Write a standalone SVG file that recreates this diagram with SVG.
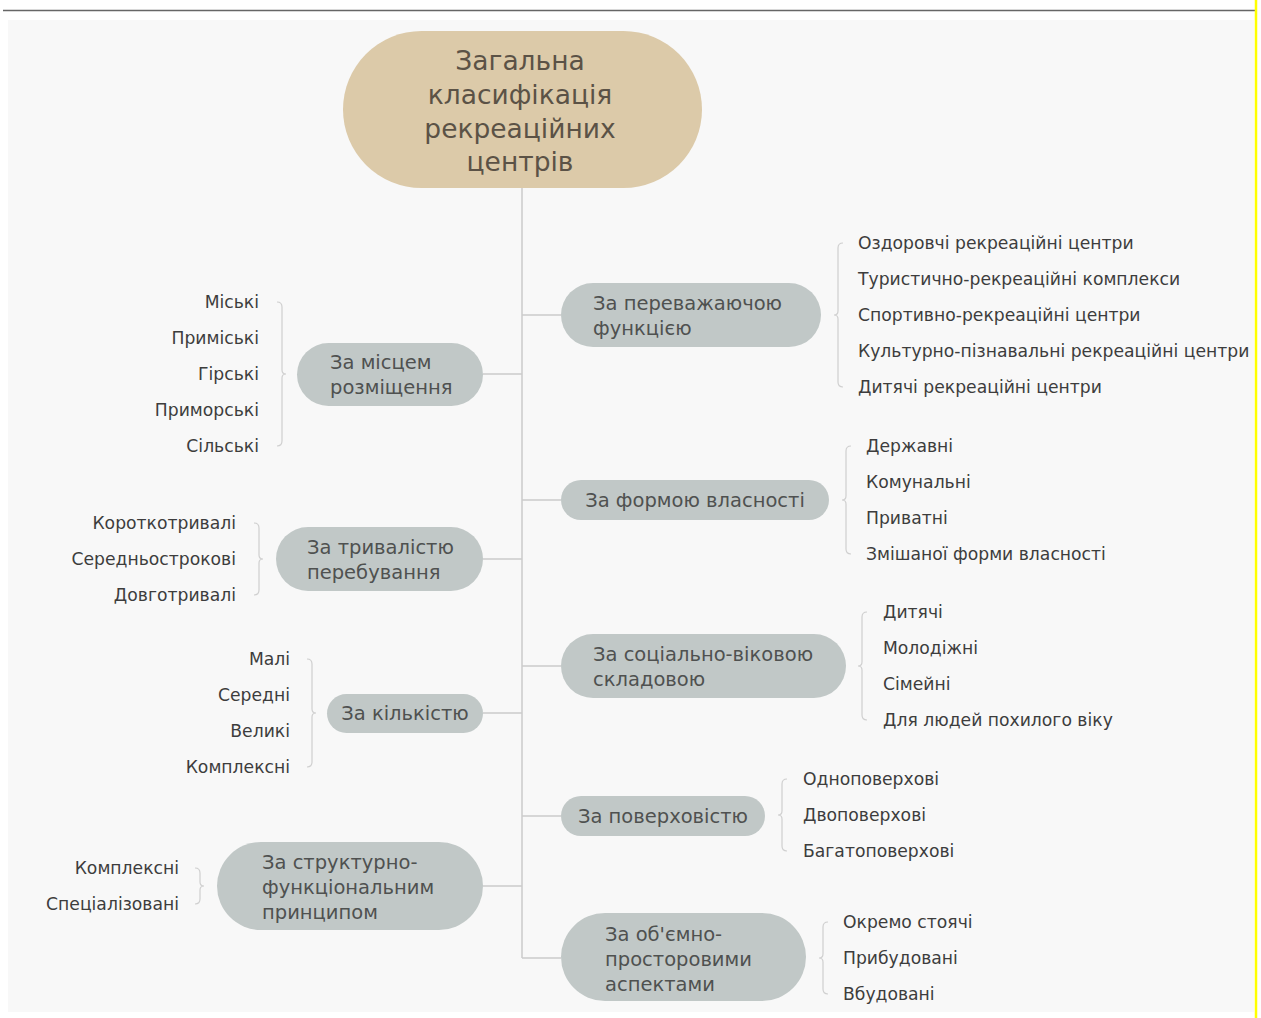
<svg xmlns="http://www.w3.org/2000/svg" width="1261" height="1018" viewBox="0 0 1261 1018">
<style>
.node{fill:#c1c8c7}
.root{fill:#dccaa9}
.rt{font-family:"DejaVu Sans",sans-serif;font-size:26.5px;fill:#5b5246;text-anchor:middle;dominant-baseline:central}
.nt{font-family:"DejaVu Sans",sans-serif;font-size:19.5px;fill:#4f5150;dominant-baseline:central}
.ct{font-family:"DejaVu Sans",sans-serif;font-size:17.2px;fill:#3d3d3d;dominant-baseline:central}
.ctl{text-anchor:end}
.ln{stroke:#cbcbcb;stroke-width:1.5;fill:none}
.br{stroke:#cfcfcf;stroke-width:1.2;fill:none}
</style>
<rect x="0" y="0" width="1261" height="1018" fill="#ffffff"/>
<line x1="3" y1="10.5" x2="1256" y2="10.5" stroke="#666" stroke-width="1.5"/>
<rect x="8" y="20" width="1246" height="992" fill="#f8f8f8"/>
<line x1="1256" y1="0" x2="1256" y2="1018" stroke="#ffff00" stroke-width="2.5"/>

<g id="connectors">
<line class="ln" x1="522" y1="188" x2="522" y2="958"/>
<line class="ln" x1="522" y1="315" x2="561" y2="315"/>
<line class="ln" x1="522" y1="500" x2="561" y2="500"/>
<line class="ln" x1="522" y1="666" x2="561" y2="666"/>
<line class="ln" x1="522" y1="816" x2="561" y2="816"/>
<line class="ln" x1="522" y1="958" x2="561" y2="958"/>
<line class="ln" x1="483" y1="374" x2="522" y2="374"/>
<line class="ln" x1="483" y1="559" x2="522" y2="559"/>
<line class="ln" x1="483" y1="713" x2="522" y2="713"/>
<line class="ln" x1="483" y1="886" x2="522" y2="886"/>
<path class="br" d="M843,243 Q838,243 838,248 L838,311 Q838,315 834,315 Q838,315 838,319 L838,382 Q838,387 843,387"/>
<path class="br" d="M851,446 Q846,446 846,451 L846,496 Q846,500 842,500 Q846,500 846,504 L846,549 Q846,554 851,554"/>
<path class="br" d="M867,612 Q862,612 862,617 L862,662 Q862,666 858,666 Q862,666 862,670 L862,715 Q862,720 867,720"/>
<path class="br" d="M787,779 Q782,779 782,784 L782,811 Q782,815 778,815 Q782,815 782,819 L782,846 Q782,851 787,851"/>
<path class="br" d="M828,922 Q823,922 823,927 L823,954 Q823,958 819,958 Q823,958 823,962 L823,989 Q823,994 828,994"/>
<path class="br" d="M277,302 Q282,302 282,307 L282,370 Q282,374 286,374 Q282,374 282,378 L282,441 Q282,446 277,446"/>
<path class="br" d="M254,523 Q259,523 259,528 L259,555 Q259,559 263,559 Q259,559 259,563 L259,590 Q259,595 254,595"/>
<path class="br" d="M307,659 Q312,659 312,664 L312,709 Q312,713 316,713 Q312,713 312,717 L312,762 Q312,767 307,767"/>
<path class="br" d="M195,868 Q200,868 200,873 L200,882 Q200,886 204,886 Q200,886 200,890 L200,899 Q200,904 195,904"/>
</g>

<g id="root">
<rect class="root" x="343" y="31" width="359" height="157" rx="78.5"/>
<text class="rt" x="520" y="60">Загальна</text>
<text class="rt" x="520" y="94">класифікація</text>
<text class="rt" x="520" y="128">рекреаційних</text>
<text class="rt" x="520" y="161">центрів</text>
</g>

<g id="n-function">
<rect class="node" x="561" y="283" width="260" height="64" rx="32"/>
<text class="nt" x="593" y="303">За переважаючою</text>
<text class="nt" x="593" y="328">функцією</text>
<text class="ct" x="858" y="243">Оздоровчі рекреаційні центри</text>
<text class="ct" x="858" y="279">Туристично-рекреаційні комплекси</text>
<text class="ct" x="858" y="315">Спортивно-рекреаційні центри</text>
<text class="ct" x="858" y="351">Культурно-пізнавальні рекреаційні центри</text>
<text class="ct" x="858" y="387">Дитячі рекреаційні центри</text>
</g>

<g id="n-ownership">
<rect class="node" x="561" y="480" width="268" height="40" rx="20"/>
<text class="nt" x="695" y="500" text-anchor="middle">За формою власності</text>
<text class="ct" x="866" y="446">Державні</text>
<text class="ct" x="866" y="482">Комунальні</text>
<text class="ct" x="866" y="518">Приватні</text>
<text class="ct" x="866" y="554">Змішаної форми власності</text>
</g>

<g id="n-social">
<rect class="node" x="561" y="634" width="285" height="64" rx="32"/>
<text class="nt" x="593" y="654">За соціально-віковою</text>
<text class="nt" x="593" y="679">складовою</text>
<text class="ct" x="883" y="612">Дитячі</text>
<text class="ct" x="883" y="648">Молодіжні</text>
<text class="ct" x="883" y="684">Сімейні</text>
<text class="ct" x="883" y="720">Для людей похилого віку</text>
</g>

<g id="n-floors">
<rect class="node" x="561" y="796" width="204" height="40" rx="20"/>
<text class="nt" x="663" y="816" text-anchor="middle">За поверховістю</text>
<text class="ct" x="803" y="779">Одноповерхові</text>
<text class="ct" x="803" y="815">Двоповерхові</text>
<text class="ct" x="803" y="851">Багатоповерхові</text>
</g>

<g id="n-volume">
<rect class="node" x="561" y="913" width="245" height="88" rx="44"/>
<text class="nt" x="605" y="934">За об'ємно-</text>
<text class="nt" x="605" y="959">просторовими</text>
<text class="nt" x="605" y="984">аспектами</text>
<text class="ct" x="843" y="922">Окремо стоячі</text>
<text class="ct" x="843" y="958">Прибудовані</text>
<text class="ct" x="843" y="994">Вбудовані</text>
</g>

<g id="n-location">
<rect class="node" x="297" y="343" width="186" height="63" rx="31.5"/>
<text class="nt" x="330" y="362">За місцем</text>
<text class="nt" x="330" y="387">розміщення</text>
<text class="ct ctl" x="259" y="302">Міські</text>
<text class="ct ctl" x="259" y="338">Приміські</text>
<text class="ct ctl" x="259" y="374">Гірські</text>
<text class="ct ctl" x="259" y="410">Приморські</text>
<text class="ct ctl" x="259" y="446">Сільські</text>
</g>

<g id="n-duration">
<rect class="node" x="276" y="527" width="207" height="64" rx="32"/>
<text class="nt" x="307" y="547">За тривалістю</text>
<text class="nt" x="307" y="572">перебування</text>
<text class="ct ctl" x="236" y="523">Короткотривалі</text>
<text class="ct ctl" x="236" y="559">Середньострокові</text>
<text class="ct ctl" x="236" y="595">Довготривалі</text>
</g>

<g id="n-count">
<rect class="node" x="327" y="694" width="156" height="39" rx="19.5"/>
<text class="nt" x="405" y="713" text-anchor="middle">За кількістю</text>
<text class="ct ctl" x="290" y="659">Малі</text>
<text class="ct ctl" x="290" y="695">Середні</text>
<text class="ct ctl" x="290" y="731">Великі</text>
<text class="ct ctl" x="290" y="767">Комплексні</text>
</g>

<g id="n-structure">
<rect class="node" x="217" y="842" width="266" height="88" rx="44"/>
<text class="nt" x="262" y="862">За структурно-</text>
<text class="nt" x="262" y="887">функціональним</text>
<text class="nt" x="262" y="912">принципом</text>
<text class="ct ctl" x="179" y="868">Комплексні</text>
<text class="ct ctl" x="179" y="904">Спеціалізовані</text>
</g>
</svg>
